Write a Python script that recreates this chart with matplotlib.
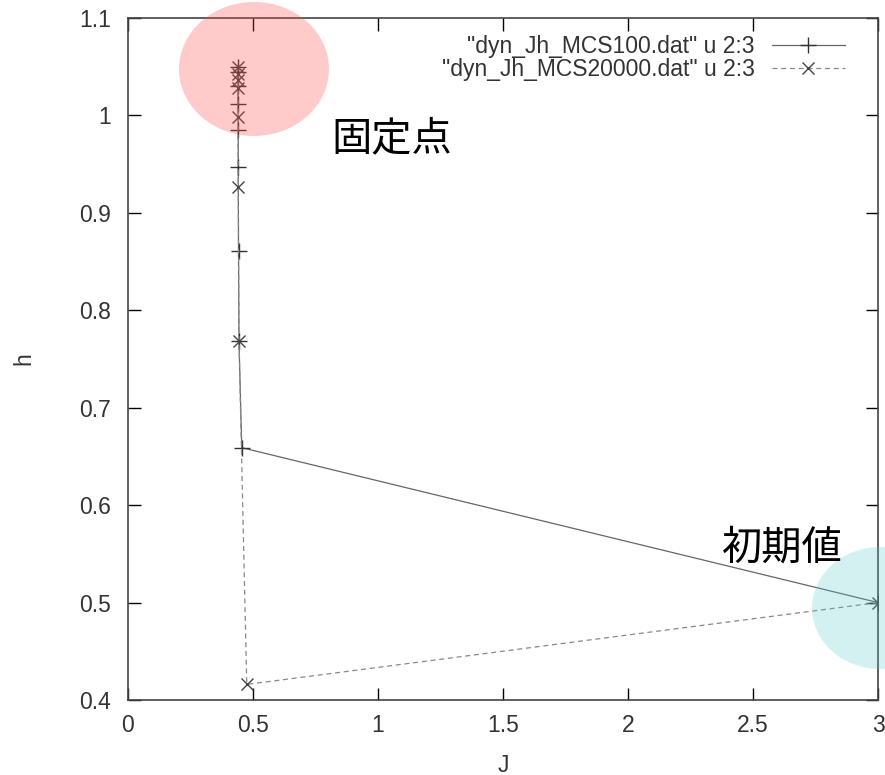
import matplotlib
matplotlib.use('Agg')
import matplotlib.pyplot as plt
from matplotlib.patches import Ellipse

# flow of (J, h) under renormalization, two MC run lengths
j_mcs100 = [3.0, 0.455, 0.444, 0.442, 0.441, 0.441, 0.440, 0.440, 0.440, 0.440]
h_mcs100 = [0.5, 0.659, 0.768, 0.861, 0.947, 0.985, 1.012, 1.030, 1.045, 1.050]

j_mcs20000 = [3.0, 0.475, 0.444, 0.441, 0.440, 0.440, 0.440, 0.440, 0.440]
h_mcs20000 = [0.5, 0.416, 0.768, 0.927, 0.998, 1.028, 1.036, 1.043, 1.050]

x_ticks = [0, 0.5, 1, 1.5, 2, 2.5, 3]
x_tick_labels = ['0', '0.5', '1', '1.5', '2', '2.5', '3']
y_ticks = [0.4, 0.5, 0.6, 0.7, 0.8, 0.9, 1.0, 1.1]
y_tick_labels = ['0.4', '0.5', '0.6', '0.7', '0.8', '0.9', '1', '1.1']

plt.rcParams['font.family'] = ['Liberation Sans', 'DejaVu Sans']

W, H = 885, 775
fig = plt.figure(figsize=(W / 100, H / 100), dpi=100)
ax = fig.add_axes([128 / W, 1 - 700 / H, 750 / W, 682 / H])

ax.plot(j_mcs100, h_mcs100, '-', color='#666666', lw=0.9, marker='+', ms=11,
        mew=1.0, mec='#333333', label='"dyn_Jh_MCS100.dat" u 2:3')
ax.plot(j_mcs20000, h_mcs20000, '--', color='#888888', lw=0.9, marker='x',
        ms=8, mew=1.0, mec='#444444', dashes=(4, 3),
        label='"dyn_Jh_MCS20000.dat" u 2:3')

ax.set_xlim(0, 3)
ax.set_ylim(0.4, 1.1)
ax.set_xticks(x_ticks)
ax.set_xticklabels(x_tick_labels)
ax.set_yticks(y_ticks)
ax.set_yticklabels(y_tick_labels)
ax.tick_params(direction='in', length=9, width=1, top=True, right=True,
               labelsize=16.5, labelcolor='#333333')
ax.tick_params(axis='x', pad=10)
ax.tick_params(axis='y', pad=12)
for s in ax.spines.values():
    s.set_color('#444444')
    s.set_linewidth(1.2)

ax.set_xlabel('J', fontsize=16.5, color='#333333', labelpad=12)
ax.set_ylabel('h', fontsize=16.5, color='#333333', labelpad=32)

leg = ax.legend(loc='upper right', bbox_to_anchor=(1 - 33 / 750, 1 - 17 / 682),
                frameon=False, fontsize=16.5, markerfirst=False,
                handlelength=3.2, borderaxespad=0, borderpad=0,
                labelspacing=0.02, handletextpad=0.75)
for t in leg.get_texts():
    t.set_color('#333333')

# highlight the fixed point and the starting point
fig.add_artist(Ellipse((254 / W, 1 - 69 / H), 150 / W, 134 / H,
                       transform=fig.transFigure, color='#ff4444', alpha=0.28,
                       lw=0, zorder=10))
fig.add_artist(Ellipse((880 / W, 1 - 608 / H), 136 / W, 122 / H,
                       transform=fig.transFigure, color='#55c8c8', alpha=0.25,
                       lw=0, zorder=10))

jp = ['Noto Sans CJK JP', 'DejaVu Sans']
fig.text(331 / W, 1 - 139 / H, '固定点', fontsize=29, family=jp,
         va='center', ha='left', zorder=11)
fig.text(722 / W, 1 - 548 / H, '初期値', fontsize=29, family=jp,
         va='center', ha='left', zorder=11)

fig.savefig('out.png', dpi=100)
